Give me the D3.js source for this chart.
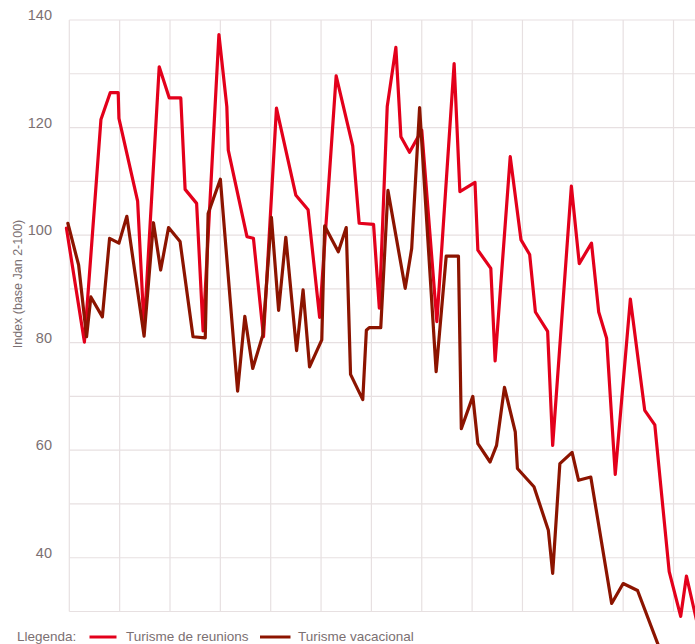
<!DOCTYPE html>
<html>
<head>
<meta charset="utf-8">
<script src="https://cdn.jsdelivr.net/npm/d3@7"></script>
<style>
  html, body { margin: 0; padding: 0; background: #ffffff; }
  svg { display: block; }
  text { font-family: "Liberation Sans", Arial, sans-serif; fill: #7b7072; }
</style>
</head>
<body>
<svg id="chart" width="695" height="644"></svg>
<script>
// ---- data (x in days from first gridline, y = index) ----
const reunionsDays = [-0.4, 2.1, 4.4, 5.7, 6.8, 6.9, 9.5, 10.4, 12.5, 13.9, 15.5, 16.1, 17.7, 18.6, 20.8, 21.9, 22.1, 24.7, 25.6, 27.0, 28.8, 31.5, 33.2, 34.8, 37.1, 39.4, 40.3, 42.3, 43.1, 44.2, 45.4, 46.1, 47.3, 49.0, 51.1, 53.5, 54.3, 56.4, 56.8, 58.6, 59.2, 61.3, 62.8, 64.0, 64.8, 66.5, 67.2, 69.8, 70.9, 72.6, 73.6, 74.7, 75.9, 78.0, 80.0, 81.4, 83.4, 85.0, 85.8, 87.6];
const reunionsValues = [101.3, 80.1, 121.5, 126.5, 126.5, 121.7, 106.3, 82.6, 131.3, 125.5, 125.5, 108.5, 105.9, 82.2, 137.3, 123.9, 115.8, 99.7, 99.4, 81.1, 123.6, 107.4, 104.7, 84.7, 129.6, 116.6, 102.2, 102.0, 86.4, 123.9, 134.9, 118.3, 115.4, 119.5, 83.9, 131.9, 108.1, 109.8, 97.2, 93.8, 76.6, 114.6, 99.1, 96.4, 85.7, 82.1, 60.9, 109.1, 94.7, 98.5, 85.7, 80.8, 55.5, 88.1, 67.4, 64.7, 37.4, 29.1, 36.6, 26.0];

const vacacionalDays = [-0.2, 1.3, 2.4, 3.0, 4.6, 5.6, 6.9, 8.0, 10.4, 11.7, 12.7, 13.8, 15.4, 17.2, 18.9, 19.3, 21.0, 23.4, 24.4, 25.5, 26.9, 28.1, 29.1, 30.1, 31.6, 32.5, 33.4, 35.1, 35.5, 37.4, 38.5, 39.1, 40.8, 41.3, 41.7, 43.3, 44.3, 46.7, 47.6, 48.7, 51.0, 52.4, 54.1, 54.5, 56.1, 56.8, 58.5, 59.4, 60.5, 62.0, 62.3, 64.6, 66.6, 67.2, 68.2, 69.9, 70.8, 72.5, 75.4, 77.0, 79.0, 83.4];
const vacacionalValues = [102.2, 94.4, 81.1, 88.5, 84.8, 99.4, 98.5, 103.5, 81.2, 102.3, 93.5, 101.4, 98.8, 81.1, 80.9, 104.0, 110.4, 71.0, 84.9, 75.2, 81.4, 103.3, 86.0, 99.6, 78.5, 89.8, 75.5, 80.5, 101.7, 96.9, 101.4, 74.1, 69.4, 82.3, 82.8, 82.8, 108.3, 90.1, 97.5, 123.7, 74.6, 96.1, 96.1, 64.0, 70.0, 61.2, 57.8, 60.9, 71.7, 63.4, 56.6, 53.2, 45.1, 37.1, 57.5, 59.6, 54.4, 55.0, 31.5, 35.2, 33.9, 18.4];

const yTicks = [30, 40, 50, 60, 70, 80, 90, 100, 110, 120, 130, 140];
const yTickLabels = ["140", "120", "100", "80", "60", "40"];
const xTicks = [0, 7, 14, 21, 28, 35, 42, 49, 56, 63, 70, 77, 84];

const seriesNames = ["Turisme de reunions", "Turisme vacacional"];
const seriesColors = ["#e3001b", "#8c1400"];
const yTitle = "Index (base Jan 2-100)";
const legendTitle = "Llegenda:";

// ---- layout ----
const svg = d3.select("#chart");
const plotLeft = 69.3, plotTop = 20, plotBottom = 611.5, plotRight = 695;

const x = d3.scaleLinear().domain([0, 84]).range([plotLeft, plotLeft + 84 * 7.193]);
const y = d3.scaleLinear().domain([30, 140]).range([plotBottom, plotTop]);

const grid = svg.append("g");
grid.selectAll("line.h").data(yTicks).join("line")
  .attr("class", "h")
  .attr("x1", plotLeft).attr("x2", plotRight)
  .attr("y1", d => y(d)).attr("y2", d => y(d))
  .attr("stroke", "#e7e0e1").attr("stroke-width", 1.2);
grid.selectAll("line.v").data(xTicks).join("line")
  .attr("class", "v")
  .attr("x1", d => x(d)).attr("x2", d => x(d))
  .attr("y1", plotTop).attr("y2", plotBottom)
  .attr("stroke", "#e7e0e1").attr("stroke-width", 1.2);

svg.append("g").selectAll("text").data(yTickLabels).join("text")
  .attr("x", 52)
  .attr("y", d => y(+d))
  .attr("text-anchor", "end")
  .style("font-size", "14.5px")
  .text(d => d);

svg.append("text")
  .attr("transform", `translate(22, 284) rotate(-90)`)
  .attr("text-anchor", "middle")
  .style("font-size", "12.5px")
  .text(yTitle);

const line = d3.line().x(d => x(d[0])).y(d => y(d[1]));
const series = [
  d3.zip(reunionsDays, reunionsValues),
  d3.zip(vacacionalDays, vacacionalValues)
];

svg.append("g").selectAll("path").data(series).join("path")
  .attr("d", line)
  .attr("fill", "none")
  .attr("stroke", (d, i) => seriesColors[i])
  .attr("stroke-width", 3.2)
  .attr("stroke-linejoin", "round")
  .attr("stroke-linecap", "round");

// legend
const lg = svg.append("g");
lg.append("text").attr("x", 17).attr("y", 641).style("font-size", "13.5px").text(legendTitle);
const legendItems = [
  { x1: 89.5, x2: 116.5, tx: 126 },
  { x1: 260, x2: 290.5, tx: 298 }
];
legendItems.forEach((it, i) => {
  lg.append("line")
    .attr("x1", it.x1).attr("x2", it.x2)
    .attr("y1", 637).attr("y2", 637)
    .attr("stroke", seriesColors[i]).attr("stroke-width", 3);
  lg.append("text").attr("x", it.tx).attr("y", 641).style("font-size", "13.5px").text(seriesNames[i]);
});
</script>
</body>
</html>
